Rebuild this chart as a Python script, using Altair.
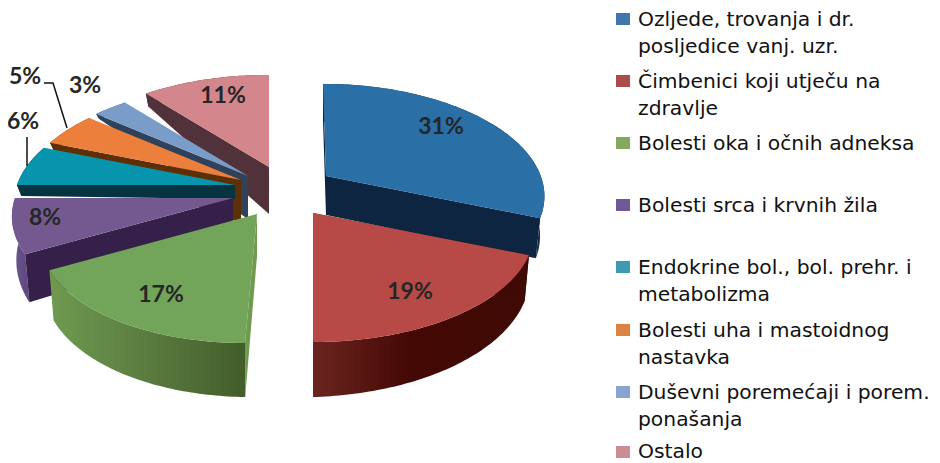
import math
import altair as alt
import numpy as np

# ---- chart values -------------------------------------------------------
categories = ["Ozljede, trovanja i dr. posljedice vanj. uzr.",
              "Čimbenici koji utječu na zdravlje",
              "Bolesti oka i očnih adneksa",
              "Bolesti srca i krvnih žila",
              "Endokrine bol., bol. prehr. i metabolizma",
              "Bolesti uha i mastoidnog nastavka",
              "Duševni poremećaji i porem. ponašanja",
              "Ostalo"]
percent = [31, 19, 17, 8, 6, 5, 3, 11]
legend_lines = [["Ozljede, trovanja i dr.", "posljedice vanj. uzr."],
                ["Čimbenici koji utječu na", "zdravlje"],
                ["Bolesti oka i očnih adneksa"],
                ["Bolesti srca i krvnih žila"],
                ["Endokrine bol., bol. prehr. i", "metabolizma"],
                ["Bolesti uha i mastoidnog", "nastavka"],
                ["Duševni poremećaji i porem.", "ponašanja"],
                ["Ostalo"]]

# ---- styling / layout ----------------------------------------------------
top_colors = ["#2a6fa5", "#b74a47", "#72a45a", "#73598f", "#0795ae", "#ed7f3c", "#7a9cc8", "#d3868c"]
wall_colors = ["#0d2540", "#3f0a05", "#6f9a50", "#35204a", "#05333f", "#5e2e05", "#2f425a", "#52323a"]
rim_grad = [("#0d2540", "#0d2540", "#12304f"), ("#6b2520", "#440804", "#3f0a05"), ("#6f9a50", "#5d7f42", "#425c2a"),
            ("#6f5a92", "#665088", "#5a4580"), ("#05333f", "#05333f", "#05333f"), ("#5e2e05", "#5e2e05", "#5e2e05"),
            ("#2f425a", "#2f425a", "#2f425a"), ("#52323a", "#52323a", "#52323a")]
legend_colors = ["#3f76ac", "#a94c4a", "#84a85f", "#6f5a97", "#3e9ab0", "#dc8343", "#89a3d0", "#cc8c93"]
apex = [(326, 176), (313, 213), (257, 214), (233, 198), (235, 185), (241, 180), (248, 176), (269, 167)]
skew = [0.0326, 0, -0.093, 0, 0, 0, 0, 0]
rx_scale = [0.985, 1, 0.974, 1, 1, 1, 1, 1]
heights = [(39, 38, 40), (42, 46, 55), (42, 54, 50), (42, 48, 42),
           (14, 11, 11), (43, 8, 8), (43, 5, 5), (47, 13, 13)]
paint_order = [0, 7, 6, 5, 4, 3, 2, 1]
label_pos = [(441, 127), (410, 292), (161, 295), (45, 218), (23, 122), (25, 77), (85, 86), (223, 96)]
leaders = [[(27, 137), (27, 166)], [(44, 83), (53, 83), (67, 128)]]
legend_y = [19, 81, 143, 205, 267, 330, 392, 452]
legend_text_shift = [0, 0, 0, 0, 0, 0, 0, -1]
RX, RY, K, SHRINK = 218, 107.5, 0.167, 0.98
M = 8  # page margin
W, H = 924, 455


def rim_point(i, t, h=0.0, shrink=1.0):
    a = apex[i]
    u, v = math.sin(t), -math.cos(t)
    w = 1 / (1 - K * v)
    dy = RY * v * w
    return (a[0] + (RX * rx_scale[i] * u * w + skew[i] * dy) * shrink - M, a[1] + dy + h - M)


def polygon(pts):
    ring = [list(p) for p in pts] + [list(pts[0])]
    return {"type": "Feature", "properties": {}, "geometry": {"type": "Polygon", "coordinates": [ring]}}


PROJ = dict(type="identity", scale=1, translate=[0, 0])


def shape(feature, fill):
    return alt.Chart(alt.Data(values=[feature])).mark_geoshape(fill=fill, stroke=None, strokeWidth=0).project(**PROJ)


def gradient(c0, c1, c2):
    return alt.Gradient(gradient="linear", x1=0, x2=1, y1=0, y2=0,
                        stops=[alt.GradientStop(color=c0, offset=0), alt.GradientStop(color=c1, offset=0.45),
                               alt.GradientStop(color=c2, offset=1)])


cum = np.cumsum([0] + percent) / sum(percent) * 2 * math.pi
layers = []
for i in paint_order:
    t0, t1 = cum[i], cum[i + 1]
    a = apex[i]
    ha, h0, h1 = heights[i]
    ts = np.linspace(t0, t1, max(int(abs(t1 - t0) * 60), 4))
    top_rim = [rim_point(i, t) for t in ts]
    fr = (ts - t0) / (t1 - t0)
    bot_rim = [rim_point(i, t, h0 + (h1 - h0) * f, SHRINK) for t, f in zip(ts, fr)]
    apx = (a[0] - M, a[1] - M)
    apx_b = (a[0] - M, a[1] + ha - M)
    # outer rim
    layers.append(shape(polygon(top_rim + bot_rim[::-1]), gradient(*rim_grad[i])))
    # radial walls
    layers.append(shape(polygon([apx, top_rim[0], bot_rim[0], apx_b]), wall_colors[i]))
    if math.sin(t1) > 0.01:
        layers.append(shape(polygon([apx, top_rim[-1], bot_rim[-1], apx_b]), wall_colors[i]))
    # top surface
    layers.append(shape(polygon([apx] + top_rim), top_colors[i]))

# leader lines
for ln in leaders:
    f = {"type": "Feature", "properties": {},
         "geometry": {"type": "LineString", "coordinates": [[x - M, y - M] for x, y in ln]}}
    layers.append(alt.Chart(alt.Data(values=[f])).mark_geoshape(filled=False, stroke="#111111", strokeWidth=1.5).project(**PROJ))

# percent labels
rows = [{"lon": x - M, "lat": y - M, "t": f"{p}%"} for (x, y), p in zip(label_pos, percent)]
layers.append(alt.Chart(alt.Data(values=rows)).mark_text(
    font="Lato", fontWeight="bold", fontSize=23, color="#262626", align="center", baseline="middle"
).encode(longitude="lon:Q", latitude="lat:Q", text="t:N").project(**PROJ))

# legend swatches + text
for yc, col in zip(legend_y, legend_colors):
    layers.append(shape(polygon([(616 - M, yc - 6 - M), (630 - M, yc - 6 - M), (630 - M, yc + 6 - M), (616 - M, yc + 6 - M)]), col))
txt = []
for yc, sh, lines in zip(legend_y, legend_text_shift, legend_lines):
    for j, s in enumerate(lines):
        txt.append({"lon": 638 - M, "lat": yc + sh + 7 + j * 27 - M, "t": s})
layers.append(alt.Chart(alt.Data(values=txt)).mark_text(
    font="DejaVu Sans", fontSize=20.3, color="#111111", align="left", baseline="alphabetic"
).encode(longitude="lon:Q", latitude="lat:Q", text="t:N").project(**PROJ))

chart = alt.layer(*layers).properties(width=W, height=H, padding=0, autosize="none"
    ).configure_view(stroke=None)
chart.save("out.html", embed_options={"renderer": "svg", "actions": False})
